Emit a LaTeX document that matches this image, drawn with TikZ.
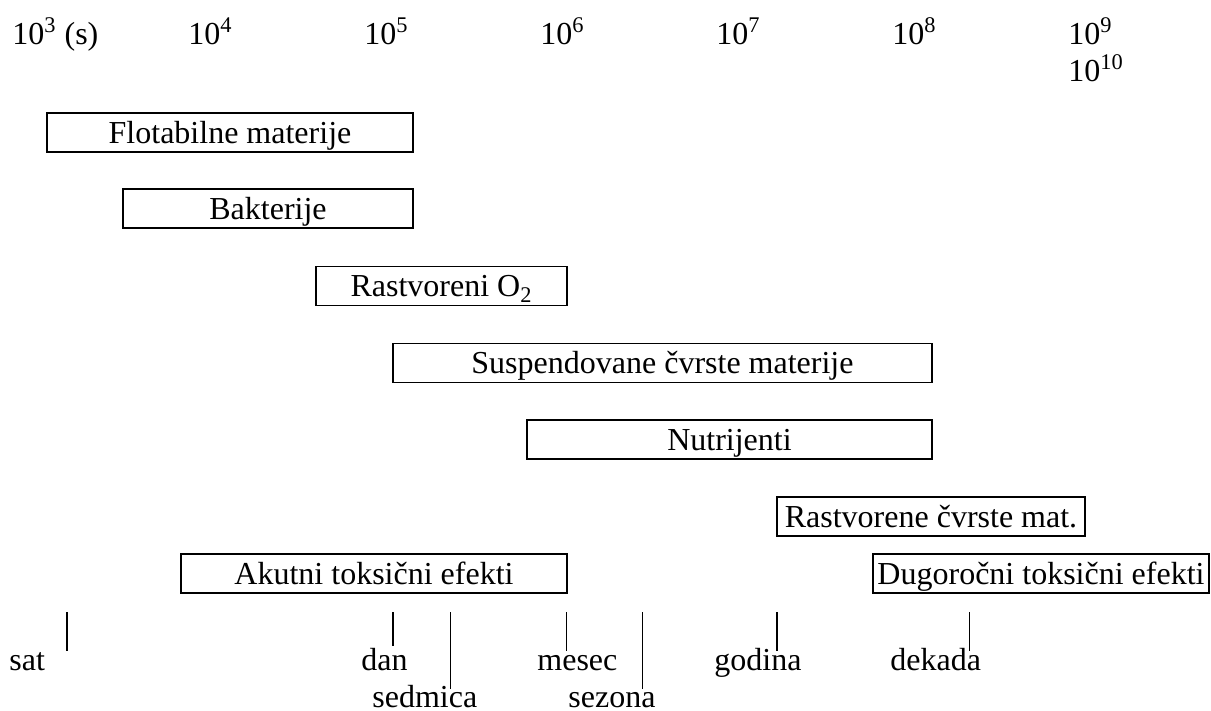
\documentclass[tikz,border=0pt]{standalone}
\usepackage{fontspec}
\setmainfont{Liberation Serif}
\usepackage{tikz}
\usetikzlibrary{positioning}

\begin{document}
\begin{tikzpicture}[
	x=0.5pt, y=-0.5pt,
	every node/.style={font=\fontsize{16}{18.5}\selectfont},
	bar/.style={
		rectangle, draw, line width=0.9pt, inner sep=0pt,
		minimum height=19.5pt, text height=12pt, text depth=1pt
	},
	scalelabel/.style={anchor=base west, inner sep=0pt},
	eventlabel/.style={anchor=base west, inner sep=0pt},
	tick/.style={line width=0.8pt}
	]
	\useasboundingbox (0,0) rectangle (1211,711);
	
	% time scale
	\node[scalelabel] (s3) at (12,45) {10\textsuperscript{3} (s)};
	\node[scalelabel] (s4) at (188,45) {10\textsuperscript{4}};
	\node[scalelabel] (s5) at (364,45) {10\textsuperscript{5}};
	\node[scalelabel] (s6) at (540,45) {10\textsuperscript{6}};
	\node[scalelabel] (s7) at (716,45) {10\textsuperscript{7}};
	\node[scalelabel] (s8) at (892,45) {10\textsuperscript{8}};
	\node[scalelabel] (s9) at (1068,45) {10\textsuperscript{9}};
	\node[scalelabel] (s10) at (1068,82) {10\textsuperscript{10}};
	
	% Flotabilne materije
	\node[bar, minimum width=183pt] (flot) at (230,132.5) {Flotabilne materije};
	
	% Bakterije
	\node[bar, minimum width=145pt] (bakt) at (268,208.5) {Bakterije};
	
	% Rastvoreni O2
	\node[bar, minimum width=125.5pt] (kiseonik) at (441.5,286) {Rastvoreni O\textsubscript{2}};
	
	% Suspendovane
	\node[bar, minimum width=269.5pt] (susp) at (662.5,363) {Suspendovane čvrste materije};
	
	% Nutrijenti
	\node[bar, minimum width=202.5pt] (nutr) at (729.5,439.5) {Nutrijenti};
	
	% Rastvorene
	\node[bar, minimum width=154pt] (rastv) at (931,516.5) {Rastvorene čvrste mat.};
	
	% toksicni efekti
	\node[bar, minimum width=193pt] (akut) at (374,573.5) {Akutni toksični efekti};
	\node[bar, minimum width=168pt] (dugo) at (1041,573.5) {Dugoročni toksični efekti};
	
	% oznake
	\node[eventlabel] (sat) at (9,670) {sat};
	\node[eventlabel] (dan) at (361,670) {dan};
	\node[eventlabel] (sedmica) at (372,707) {sedmica};
	\node[eventlabel] (mesec) at (537,670) {mesec};
	\node[eventlabel] (sezona) at (568,707) {sezona};
	\node[eventlabel] (godina) at (714,670) {godina};
	\node[eventlabel] (dekada) at (890,670) {dekada};
	
	\coordinate (satTop) at (67,612);
	\coordinate (danTop) at (393,612);
	\coordinate (sedmicaTop) at (450.5,612);
	\coordinate (mesecTop) at (566.5,612);
	\coordinate (sezonaTop) at (642.5,612);
	\coordinate (godinaTop) at (777,612);
	\coordinate (dekadaTop) at (969.5,612);
	
	\draw[tick] (satTop) -- ++(0,39);
	\draw[tick] (danTop) -- ++(0,34);
	\draw[tick] (sedmicaTop) -- ++(0,77);
	\draw[tick] (mesecTop) -- ++(0,39);
	\draw[tick] (sezonaTop) -- ++(0,77);
	\draw[tick] (godinaTop) -- ++(0,39);
	\draw[tick] (dekadaTop) -- ++(0,39);
\end{tikzpicture}
\end{document}
